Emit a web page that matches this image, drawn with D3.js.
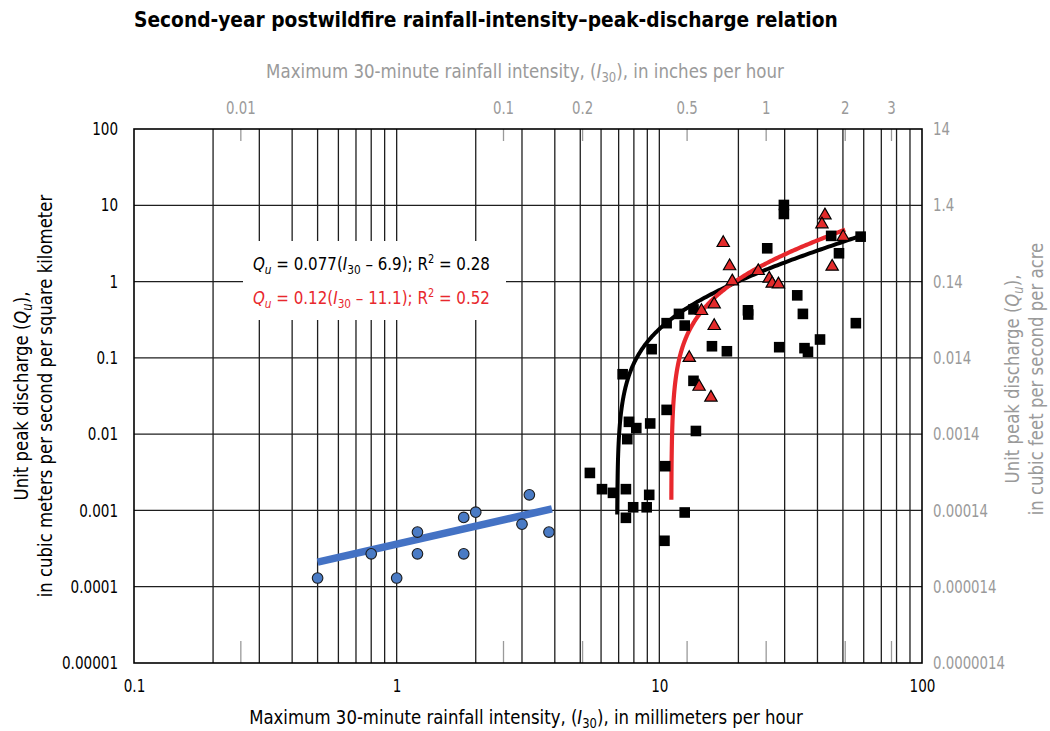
<!DOCTYPE html>
<html>
<head>
<meta charset="utf-8">
<script src="https://cdn.jsdelivr.net/npm/d3@7"></script>
<style>
  body { margin: 0; background: #fff; }
  svg text { font-family: "Liberation Sans Narrow", "Arial Narrow", "DejaVu Sans Condensed", sans-serif; }
</style>
</head>
<body>
<svg id="chart" width="1050" height="731"></svg>
<script>
// Maximum 30-minute rainfall intensity I30 (mm/h) and unit peak discharge Qu (m3/s/km2)
const circleI = [0.5, 0.8, 1.0, 1.2, 1.2, 1.8, 1.8, 2.0, 3.0, 3.2, 3.8];
const circleQ = [0.00013, 0.00027, 0.00013, 0.00052, 0.00027, 0.00081, 0.00027, 0.00095, 0.00066, 0.0016, 0.00052];

const squareI = [5.44, 6.05, 6.66, 7.46, 7.46, 7.95, 8.95, 9.15, 7.66, 8.17, 9.23, 7.55, 7.25, 10.66,
                 10.53, 10.46, 12.49, 13.78, 13.49, 9.35, 10.66, 11.88, 12.49, 13.49, 15.86, 18.08,
                 21.75, 21.8, 25.75, 28.6, 29.8, 29.8, 33.5, 35.2, 35.7, 36.8, 40.9, 45.1, 48.3, 58.4, 56.0];
const squareQ = [0.0031, 0.0019, 0.0017, 0.0019, 0.00080, 0.0011, 0.0011, 0.0016, 0.0145, 0.012, 0.0138,
                 0.0086, 0.061, 0.0208, 0.0038, 0.00040, 0.00094, 0.0110, 0.050, 0.130, 0.285, 0.377,
                 0.265, 0.432, 0.142, 0.122, 0.42, 0.37, 2.73, 0.138, 10.1, 7.7, 0.66, 0.377, 0.134,
                 0.120, 0.174, 3.97, 2.35, 3.88, 0.285];

const triangleI = [13.0, 14.17, 15.72, 14.47, 16.17, 16.18, 17.51, 18.52, 18.95, 23.8, 26.2, 26.9, 28.4,
                   42.7, 41.6, 45.5, 50.1];
const triangleQ = [0.103, 0.0432, 0.0311, 0.425, 0.52, 0.27, 3.31, 1.64, 1.04, 1.42, 1.13, 0.97, 0.95,
                   7.63, 5.82, 1.62, 3.97];

// Trend through the low-intensity events (end points)
const blueLineI = [0.5, 3.9];
const blueLineQ = [0.00021, 0.00105];

// Fitted relations Qu = a (I30 - b), with the I30 span each one is drawn over
const blackFit = [0.077, 6.9];
const blackFitSpan = [6.9115, 59];
const redFit = [0.12, 11.1];
const redFitSpan = [11.1115, 51];

// Axis ticks
const bottomTicks = [0.1, 1, 10, 100];
const bottomLabels = ["0.1", "1", "10", "100"];
const topTicks = [0.01, 0.1, 0.2, 0.5, 1, 2, 3];          // inches per hour
const topLabels = ["0.01", "0.1", "0.2", "0.5", "1", "2", "3"];
const leftTicks = [1e-5, 1e-4, 1e-3, 1e-2, 1e-1, 1, 10, 100];
const leftLabels = ["0.00001", "0.0001", "0.001", "0.01", "0.1", "1", "10", "100"];
const rightTicks = [1.4e-6, 1.4e-5, 1.4e-4, 1.4e-3, 1.4e-2, 0.14, 1.4, 14];   // ft3/s per acre
const rightLabels = ["0.0000014", "0.000014", "0.00014", "0.0014", "0.014", "0.14", "1.4", "14"];

const MM_PER_INCH = 25.4;
const CFS_PER_ACRE = 0.14;

const svg = d3.select("#chart");
const plotL = 134, plotR = 922, plotT = 129, plotB = 663;
const BLACK = "#000", GRAY = "#9a9a9a", RED = "#e8282d", BLUE = "#4472c4";

const x = d3.scaleLog().domain([0.1, 100]).range([plotL, plotR]);
const y = d3.scaleLog().domain([1e-5, 100]).range([plotB, plotT]);
const xIn = d3.scaleLog().domain([0.1 / MM_PER_INCH, 100 / MM_PER_INCH]).range([plotL, plotR]);
const yR = d3.scaleLog().domain([1e-5 * CFS_PER_ACRE, 100 * CFS_PER_ACRE]).range([plotB, plotT]);

// Narrow a single-run text horizontally by factor k (keeps its height)
function condense(node, k) {
  const w = node.getComputedTextLength();
  d3.select(node).attr("textLength", w * k).attr("lengthAdjust", "spacingAndGlyphs");
}
function condenseAxis(g, k) { g.selectAll(".tick text").each(function () { condense(this, k); }); }

// A text group placed at `place`, squeezed along its baseline to span `width` (or by factor k)
function squeezedText(place, build, opts) {
  const g = svg.append("g");
  const t = g.append("text").attr("x", 0).attr("y", 0);
  build(t);
  const k = opts.k || opts.width / t.node().getComputedTextLength();
  g.attr("transform", `${place} scale(${k},1)`);
  return k;
}

// Grid
const grid = svg.append("g").attr("stroke", "#1e1e1e").attr("stroke-width", 1.3);
grid.selectAll("line.v").data(x.ticks().filter(d => d > 0.1 && d < 100))
  .join("line").attr("class", "v")
  .attr("x1", d => x(d)).attr("x2", d => x(d)).attr("y1", plotT).attr("y2", plotB);
grid.selectAll("line.h").data(leftTicks.slice(1, -1))
  .join("line").attr("class", "h")
  .attr("x1", plotL).attr("x2", plotR).attr("y1", d => y(d)).attr("y2", d => y(d));

const TICK_FONT = 17.5;
// Inch-per-hour tick marks along top and bottom edges
const topAxis = svg.append("g").attr("transform", `translate(0,${plotT})`)
  .call(d3.axisTop(xIn).tickValues(topTicks).tickSizeInner(-12).tickSizeOuter(0).tickPadding(15)
    .tickFormat((d, i) => topLabels[i]))
  .call(g => g.select(".domain").remove())
  .call(g => g.selectAll("line").attr("stroke", GRAY).attr("stroke-width", 1.3))
  .call(g => g.selectAll("text").attr("fill", GRAY).attr("font-size", TICK_FONT));
svg.append("g").attr("transform", `translate(0,${plotB})`)
  .call(d3.axisBottom(xIn).tickValues(topTicks).tickSizeInner(-22).tickSizeOuter(0).tickFormat(""))
  .call(g => g.select(".domain").remove())
  .call(g => g.selectAll("line").attr("stroke", GRAY).attr("stroke-width", 1.3));

// Equation panel background
svg.append("rect").attr("x", 243).attr("y", 241).attr("width", 263).attr("height", 79).attr("fill", "#fff");

// Plot frame
svg.append("rect").attr("x", plotL).attr("y", plotT).attr("width", plotR - plotL).attr("height", plotB - plotT)
  .attr("fill", "none").attr("stroke", BLACK).attr("stroke-width", 1.6);

// Axes
const bottomAxis = svg.append("g").attr("transform", `translate(0,${plotB})`)
  .call(d3.axisBottom(x).tickValues(bottomTicks).tickSize(0).tickPadding(17).tickFormat((d, i) => bottomLabels[i]))
  .call(g => g.select(".domain").remove())
  .call(g => g.selectAll("text").attr("fill", BLACK).attr("font-size", TICK_FONT));
const leftAxis = svg.append("g").attr("transform", `translate(${plotL},0)`)
  .call(d3.axisLeft(y).tickValues(leftTicks).tickSize(0).tickPadding(16).tickFormat((d, i) => leftLabels[i]))
  .call(g => g.select(".domain").remove())
  .call(g => g.selectAll("text").attr("fill", BLACK).attr("font-size", TICK_FONT));
const rightAxis = svg.append("g").attr("transform", `translate(${plotR},0)`)
  .call(d3.axisRight(yR).tickValues(rightTicks).tickSize(0).tickPadding(11).tickFormat((d, i) => rightLabels[i]))
  .call(g => g.select(".domain").remove())
  .call(g => g.selectAll("text").attr("fill", GRAY).attr("font-size", TICK_FONT));
const kTick = 56 / leftAxis.select(".tick:first-of-type text").node().getComputedTextLength();
const kRight = 72 / rightAxis.select(".tick:first-of-type text").node().getComputedTextLength();
condenseAxis(leftAxis, kTick);
condenseAxis(bottomAxis, kTick);
condenseAxis(topAxis, kRight);
condenseAxis(rightAxis, kRight);

// Low-intensity trend
const line = d3.line().x(d => x(d[0])).y(d => y(d[1]));
svg.append("path").datum(d3.zip(blueLineI, blueLineQ)).attr("d", line)
  .attr("fill", "none").attr("stroke", BLUE).attr("stroke-width", 7.5);

// Fitted curves, sampled densely near their asymptotes
function fitPoints(fit, span) {
  const lo = Math.log10(span[0] - fit[1]), hi = Math.log10(span[1] - fit[1]);
  return d3.range(0, 301).map(k => {
    const I = fit[1] + Math.pow(10, lo + (hi - lo) * k / 300);
    return [I, fit[0] * (I - fit[1])];
  });
}
svg.append("path").datum(fitPoints(blackFit, blackFitSpan)).attr("d", line)
  .attr("fill", "none").attr("stroke", BLACK).attr("stroke-width", 4);
svg.append("path").datum(fitPoints(redFit, redFitSpan)).attr("d", line)
  .attr("fill", "none").attr("stroke", RED).attr("stroke-width", 4.2);

// Markers
svg.append("g").selectAll("circle").data(d3.zip(circleI, circleQ)).join("circle")
  .attr("cx", d => x(d[0])).attr("cy", d => y(d[1])).attr("r", 5.3)
  .attr("fill", "#4a7bc5").attr("stroke", "#1b1b1b").attr("stroke-width", 1.1);
svg.append("g").selectAll("rect").data(d3.zip(squareI, squareQ)).join("rect")
  .attr("x", d => x(d[0]) - 5.3).attr("y", d => y(d[1]) - 5.3).attr("width", 10.6).attr("height", 10.6)
  .attr("fill", BLACK);
const tri = d3.symbol(d3.symbolTriangle, 66);
svg.append("g").selectAll("path").data(d3.zip(triangleI, triangleQ)).join("path")
  .attr("d", tri).attr("transform", d => `translate(${x(d[0])},${y(d[1]) + 1})`)
  .attr("fill", "#e32b2b").attr("stroke", BLACK).attr("stroke-width", 1.2);

// Equations (sub/superscripts sized relative to the line)
function equationBuilder(color, coef, offset, r2) {
  return t => {
    t.attr("fill", color).attr("font-size", 18.5);
    t.append("tspan").attr("font-style", "italic").text("Q");
    t.append("tspan").attr("font-style", "italic").attr("font-size", "70%").attr("dy", "0.28em").text("u");
    t.append("tspan").attr("dy", "-0.2em").text(` = ${coef}(`);
    t.append("tspan").attr("font-style", "italic").text("I");
    t.append("tspan").attr("font-size", "70%").attr("dy", "0.28em").text("30");
    t.append("tspan").attr("dy", "-0.2em").text(` – ${offset}); R`);
    t.append("tspan").attr("font-size", "65%").attr("dy", "-0.55em").text("2");
    t.append("tspan").attr("dy", "0.36em").text(` = ${r2}`);
  };
}
squeezedText("translate(253,270)", equationBuilder(BLACK, "0.077", "6.9", "0.28"), { width: 237 });
squeezedText("translate(253,304)", equationBuilder(RED, "0.12", "11.1", "0.52"), { width: 237 });

// Titles
squeezedText("translate(134,27)", t => t.attr("font-size", 22).attr("font-weight", "bold").attr("fill", BLACK)
  .text("Second-year postwildfire rainfall-intensity–peak-discharge relation"), { width: 704 });

const TITLE_FONT = 19.5;
function intensityBuilder(color, unit) {
  return t => {
    t.attr("text-anchor", "middle").attr("fill", color).attr("font-size", TITLE_FONT);
    t.append("tspan").text("Maximum 30-minute rainfall intensity, (");
    t.append("tspan").attr("font-style", "italic").text("I");
    t.append("tspan").attr("font-size", "70%").attr("dy", "0.28em").text("30");
    t.append("tspan").attr("dy", "-0.2em").text(`), in ${unit}`);
  };
}
squeezedText("translate(525,78)", intensityBuilder(GRAY, "inches per hour"), { width: 518 });
const kTitle = squeezedText("translate(526,724)", intensityBuilder(BLACK, "millimeters per hour"), { width: 554 });

function dischargeTitle(cx, cy, color, line2, gap) {
  squeezedText(`translate(${cx},${cy}) rotate(-90)`, t => {
    t.attr("text-anchor", "middle").attr("fill", color).attr("font-size", TITLE_FONT);
    t.append("tspan").text("Unit peak discharge (");
    t.append("tspan").attr("font-style", "italic").text("Q");
    t.append("tspan").attr("font-style", "italic").attr("font-size", "70%").attr("dy", "0.28em").text("u");
    t.append("tspan").attr("dy", "-0.2em").text("),");
  }, { k: kTitle });
  squeezedText(`translate(${cx + gap},${cy}) rotate(-90)`, t => {
    t.attr("text-anchor", "middle").attr("fill", color).attr("font-size", TITLE_FONT).text(line2);
  }, { k: kTitle });
}
dischargeTitle(28, 396, BLACK, "in cubic meters per second per square kilometer", 24);
dischargeTitle(1019, 379, GRAY, "in cubic feet per second per acre", 24);
</script>
</body>
</html>
